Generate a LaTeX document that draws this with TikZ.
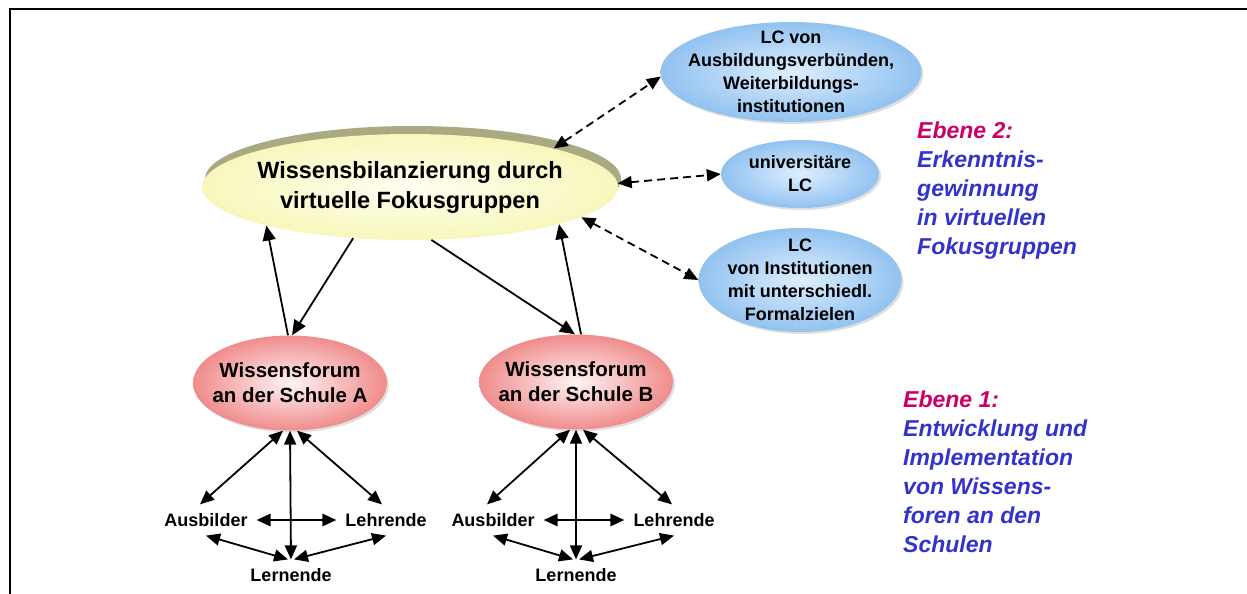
\documentclass[tikz,border=0pt]{standalone}
\usepackage{fontspec}
\setmainfont{Liberation Sans}
\usetikzlibrary{shapes.geometric, arrows.meta, shadows}
\definecolor{ebenerot}{HTML}{CC0066}
\definecolor{ebeneblau}{HTML}{3333CC}
\definecolor{gelbinnen}{HTML}{FFFFF2}
\definecolor{gelbaussen}{HTML}{F7F7BC}
\definecolor{gelbschatten}{HTML}{A9A982}
\definecolor{blauinnen}{HTML}{DDEEFF}
\definecolor{blauaussen}{HTML}{92C2F0}
\definecolor{rotinnen}{HTML}{FFF2F2}
\definecolor{rotaussen}{HTML}{F08C8C}

\begin{document}
\begin{tikzpicture}[x=1pt, y=-1pt,
    bilanz/.style={ellipse, inner sep=-20pt, minimum width=416pt, minimum height=106pt, align=center,
      inner color=gelbinnen, outer color=gelbaussen,
      general shadow={shadow xshift=3pt, shadow yshift=8pt, fill=gelbschatten},
      font=\fontsize{23.5}{30}\selectfont\bfseries},
    lc/.style={ellipse, inner sep=-20pt, align=center, inner color=blauinnen, outer color=blauaussen,
      drop shadow={shadow xshift=2pt, shadow yshift=-2pt, opacity=0.25},
      font=\fontsize{18}{23}\selectfont\bfseries},
    forum/.style={ellipse, inner sep=-20pt, minimum width=194pt, minimum height=95pt, align=center,
      inner color=rotinnen, outer color=rotaussen,
      drop shadow={shadow xshift=2pt, shadow yshift=-2pt, opacity=0.25},
      font=\fontsize{20.5}{25}\selectfont\bfseries},
    rolle/.style={inner sep=2pt, outer sep=7pt, font=\fontsize{18}{22}\selectfont\bfseries},
    ebene/.style={anchor=north west, inner sep=0pt, align=left, text=ebeneblau,
      font=\fontsize{23}{29}\selectfont\bfseries\itshape},
    pfeil/.style={-{Triangle[length=15pt,width=13pt]}, line width=1.8pt},
    beide/.style={{Triangle[length=14pt,width=12pt]}-{Triangle[length=14pt,width=12pt]}, line width=1.8pt},
    gestrichelt/.style={beide, dash pattern=on 8pt off 5pt}
]
\useasboundingbox (0,0) rectangle (1247,594);

% Rahmen
\draw[line width=2pt] (10,594) -- (10,9) -- (1247,9);

% Ebene 2
\node[bilanz] (bil) at (410,187) {Wissensbilanzierung durch\\virtuelle Fokusgruppen};
\node[lc, minimum width=261pt, minimum height=100pt] (lc1) at (791,72) {LC von\\Ausbildungsverbünden,\\Weiterbildungs-\\institutionen};
\node[lc, minimum width=158pt, minimum height=68pt] (lc2) at (800,174) {universitäre\\LC};
\node[lc, minimum width=203pt, minimum height=104pt] (lc3) at (800,280) {LC\\von Institutionen\\mit unterschiedl.\\Formalzielen};

% Ebene 1
\node[forum] (fA) at (290,383) {Wissensforum\\an der Schule A};
\node[forum] (fB) at (576,382) {Wissensforum\\an der Schule B};

\node[rolle] (ausA) at (206,520) {Ausbilder};
\node[rolle] (lehA) at (386,520) {Lehrende};
\node[rolle] (lernA) at (291,575) {Lernende};
\node[rolle] (ausB) at (493,520) {Ausbilder};
\node[rolle] (lehB) at (674,520) {Lehrende};
\node[rolle] (lernB) at (576,575) {Lernende};

% Verbindungen oben
\draw[pfeil] ([xshift=-2pt]fA.north) -- (bil.195);
\draw[pfeil] (bil.222) -- ([xshift=2pt]fA.north);
\draw[pfeil] (bil.292) -- ([xshift=-1pt]fB.north);
\draw[pfeil] ([xshift=5pt]fB.north) -- (bil.346);
\draw[gestrichelt] (bil.15) -- (lc1.182);
\draw[gestrichelt] (bil.1) -- (lc2.west);
\draw[gestrichelt] (bil.350) -- (lc3.west);

% Schule A
\draw[beide] ([xshift=-6pt]ausA.north) -- ([xshift=-7pt]fA.south);
\draw[beide] ([xshift=-4pt]lehA.north) -- ([xshift=7pt]fA.south);
\draw[beide] (fA.south) -- (lernA.north);
\draw[beide, line width=2.6pt] (ausA.east) -- (lehA.west);
\draw[beide] (ausA.south) -- ([xshift=-3pt]lernA.north);
\draw[beide] (lehA.south) -- ([xshift=3pt]lernA.north);

% Schule B
\draw[beide] ([xshift=-6pt]ausB.north) -- ([xshift=-6pt]fB.south);
\draw[beide] ([xshift=-2pt]lehB.north) -- ([xshift=7pt]fB.south);
\draw[beide] (fB.south) -- (lernB.north);
\draw[beide, line width=2.6pt] (ausB.east) -- (lehB.west);
\draw[beide] (ausB.south) -- ([xshift=-3pt]lernB.north);
\draw[beide] (lehB.south) -- ([xshift=3pt]lernB.north);

% Texte rechts
\node[ebene] (e2) at (917,121.5) {\textcolor{ebenerot}{Ebene 2:}\\Erkenntnis-\\gewinnung\\in virtuellen\\Fokusgruppen};
\node[ebene] (e1) at (903,390.5) {\textcolor{ebenerot}{Ebene 1:}\\Entwicklung und\\Implementation\\von Wissens-\\foren an den\\Schulen};
\end{tikzpicture}
\end{document}
